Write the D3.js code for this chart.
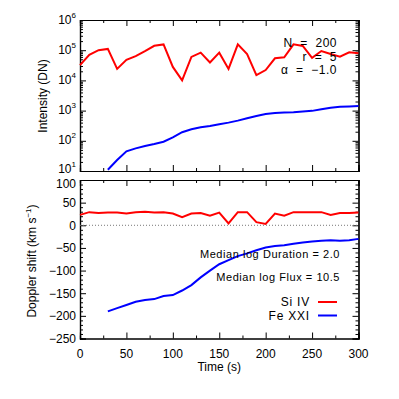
<!DOCTYPE html>
<html>
<head>
<meta charset="utf-8">
<script src="https://cdn.jsdelivr.net/npm/d3@7"></script>
<style>
  body { margin: 0; background: #fff; }
  svg { display: block; font-family: "Liberation Sans", Arial, Helvetica, sans-serif; }
</style>
</head>
<body>
<div id="chart"></div>
<script>
// time samples (s)
var times = d3.range(0, 301, 10)
// intensity (DN)
var siIntensity = [32000, 70000, 100000, 110000, 24000, 48000, 64000, 93000, 140000, 155000,
                   28000, 10000, 60000, 83000, 39000, 83000, 24000, 156000, 75000, 15000,
                   22000, 54000, 58000, 156000, 138000, 56000, 94000, 75000, 61000, 85000, 79000]
var feTimes = d3.range(30, 301, 10)
var feIntensity = [11, 23, 45, 56, 67, 78, 93, 130, 192, 240, 280, 310, 355, 400, 465, 560,
                   660, 770, 830, 870, 890, 940, 980, 1100, 1250, 1350, 1380, 1410]
// doppler shift (km/s)
var siDoppler = [23, 29, 27, 28, 28, 26, 29, 30, 28, 29, 26, 18, 26, 27, 21, 28, 4, 29, 29, 7,
                 3, 26, 21, 29, 29, 29, 29, 23, 27, 27, 28]
var feDoppler = [-190, -183, -176, -169, -165, -163, -156, -154, -144, -132, -115, -100, -86,
                 -77, -68, -62, -55, -49, -46, -44, -41, -38, -36, -34, -33, -34, -33, -30]

var xTicks = [0, 50, 100, 150, 200, 250, 300]
var yDopTicks = [100, 50, 0, -50, -100, -150, -200, -250]
var yLogTicks = [1e1, 1e2, 1e3, 1e4, 1e5, 1e6]
var statLines = ['N  =  200', 'r  =  5', 'α  =  −1.0']
var medianLines = ['Median log Duration = 2.0', 'Median log Flux = 10.5']
var legendNames = ['Si IV', 'Fe XXI']
var legendColors = ['#ff0000', '#0000ff']

var W = 399, H = 399
var svg = d3.select('#chart').append('svg').attr('width', W).attr('height', H)

var x = d3.scaleLinear().domain([0, 300]).range([80, 358.5])
var yTop = d3.scaleLog().domain([10, 1e6]).range([171, 20])
var yBot = d3.scaleLinear().domain([-250, 100]).range([338.5, 180])

function drawFrame(y, top, bottom, yMajor, yMinor, xMinor) {
    var g = svg.append('g')
    // x axis bottom and top, ticks inward
    g.append('g').attr('transform', `translate(0,${bottom})`)
        .call(d3.axisBottom(x).tickValues(xTicks).tickSize(-6).tickFormat(''))
    g.append('g').attr('transform', `translate(0,${bottom})`)
        .call(d3.axisBottom(x).tickValues(xMinor).tickSize(-3).tickFormat(''))
    g.append('g').attr('transform', `translate(0,${top})`)
        .call(d3.axisTop(x).tickValues(xTicks).tickSize(-6).tickFormat(''))
    g.append('g').attr('transform', `translate(0,${top})`)
        .call(d3.axisTop(x).tickValues(xMinor).tickSize(-3).tickFormat(''))
    // y left and right
    g.append('g').attr('transform', `translate(${x.range()[0]},0)`)
        .call(d3.axisLeft(y).tickValues(yMajor).tickSize(-6).tickFormat(''))
    g.append('g').attr('transform', `translate(${x.range()[0]},0)`)
        .call(d3.axisLeft(y).tickValues(yMinor).tickSize(-3).tickFormat(''))
    g.append('g').attr('transform', `translate(${x.range()[1]},0)`)
        .call(d3.axisRight(y).tickValues(yMajor).tickSize(-6).tickFormat(''))
    g.append('g').attr('transform', `translate(${x.range()[1]},0)`)
        .call(d3.axisRight(y).tickValues(yMinor).tickSize(-3).tickFormat(''))
    g.selectAll('.domain').attr('stroke', '#000').attr('stroke-width', 1.2)
    g.selectAll('.tick line').attr('stroke', '#000').attr('stroke-width', 1)
    return g
}

var xMinor = [25, 75, 125, 175, 225, 275]

// ---- top panel: intensity
var logMinor = []
yLogTicks.slice(0, -1).forEach(d => { for (var k = 2; k < 10; k++) logMinor.push(d * k) })
drawFrame(yTop, 20, 171, yLogTicks, logMinor, xMinor)

var lineTop = d3.line().x(d => x(d[0])).y(d => yTop(d[1]))
svg.append('path')
    .attr('d', lineTop(times.map((t, i) => [t, siIntensity[i]])))
    .attr('fill', 'none').attr('stroke', legendColors[0]).attr('stroke-width', 2)
svg.append('path')
    .attr('d', lineTop(feTimes.map((t, i) => [t, feIntensity[i]])))
    .attr('fill', 'none').attr('stroke', legendColors[1]).attr('stroke-width', 2)

var logLabels = svg.append('g').attr('font-size', 12)
yLogTicks.forEach(d => {
    var t = logLabels.append('text')
        .attr('x', 76).attr('y', yTop(d) + (d == 10 ? 1.5 : 3.5))
        .attr('text-anchor', 'end')
    t.append('tspan').text('10')
    t.append('tspan').attr('dy', -6).attr('font-size', 8).text(Math.round(Math.log10(d)))
})

svg.append('text')
    .attr('transform', 'translate(47,96) rotate(-90)')
    .attr('text-anchor', 'middle').attr('font-size', 12)
    .text('Intensity (DN)')

svg.selectAll('.stat').data(statLines).enter().append('text')
    .attr('class', 'stat')
    .attr('x', 337).attr('y', (d, i) => 47 + i * 13.5)
    .attr('text-anchor', 'end').attr('font-size', 12)
    .attr('letter-spacing', 0.5)
    .style('white-space', 'pre')
    .text(d => d)

// ---- bottom panel: doppler shift
var dopMinor = d3.range(-250, 101, 10).filter(d => d % 50 != 0)
drawFrame(yBot, 180, 338.5, yDopTicks, dopMinor, xMinor)

svg.append('line')
    .attr('x1', x(0)).attr('x2', x(300)).attr('y1', yBot(0)).attr('y2', yBot(0))
    .attr('stroke', '#777').attr('stroke-width', 1).attr('stroke-dasharray', '1,2')

var lineBot = d3.line().x(d => x(d[0])).y(d => yBot(d[1]))
svg.append('path')
    .attr('d', lineBot(times.map((t, i) => [t, siDoppler[i]])))
    .attr('fill', 'none').attr('stroke', legendColors[0]).attr('stroke-width', 2)
svg.append('path')
    .attr('d', lineBot(feTimes.map((t, i) => [t, feDoppler[i]])))
    .attr('fill', 'none').attr('stroke', legendColors[1]).attr('stroke-width', 2)

svg.append('g').selectAll('text').data(yDopTicks).enter().append('text')
    .attr('x', 76).attr('y', d => yBot(d) + (d == 100 ? 7.5 : 4.5))
    .attr('text-anchor', 'end').attr('font-size', 12)
    .text(d => d < 0 ? '−' + Math.abs(d) : d)

svg.append('g').selectAll('text').data(xTicks).enter().append('text')
    .attr('x', d => x(d)).attr('y', 358)
    .attr('text-anchor', 'middle').attr('font-size', 12)
    .text(d => d)

svg.append('text')
    .attr('x', x(150)).attr('y', 371)
    .attr('text-anchor', 'middle').attr('font-size', 12)
    .text('Time (s)')

var dopLabel = svg.append('text')
    .attr('transform', 'translate(36,261) rotate(-90)')
    .attr('text-anchor', 'middle').attr('font-size', 12)
dopLabel.append('tspan').text('Doppler shift (km s')
dopLabel.append('tspan').attr('dy', -5).attr('font-size', 8).text('−1')
dopLabel.append('tspan').attr('dy', 5).text(')')

svg.selectAll('.median').data(medianLines).enter().append('text')
    .attr('class', 'median')
    .attr('x', 340).attr('y', (d, i) => 258 + i * 23)
    .attr('text-anchor', 'end').attr('font-size', 11)
    .attr('letter-spacing', 0.55)
    .text(d => d)

legendNames.forEach((name, i) => {
    var ly = 302 + i * 13.5
    svg.append('text')
        .attr('x', 310).attr('y', ly + 4)
        .attr('text-anchor', 'end').attr('font-size', 12)
        .attr('letter-spacing', 0.8)
        .text(name)
    svg.append('line')
        .attr('x1', 318).attr('x2', 337).attr('y1', ly).attr('y2', ly)
        .attr('stroke', legendColors[i]).attr('stroke-width', 2)
})
</script>
</body>
</html>
